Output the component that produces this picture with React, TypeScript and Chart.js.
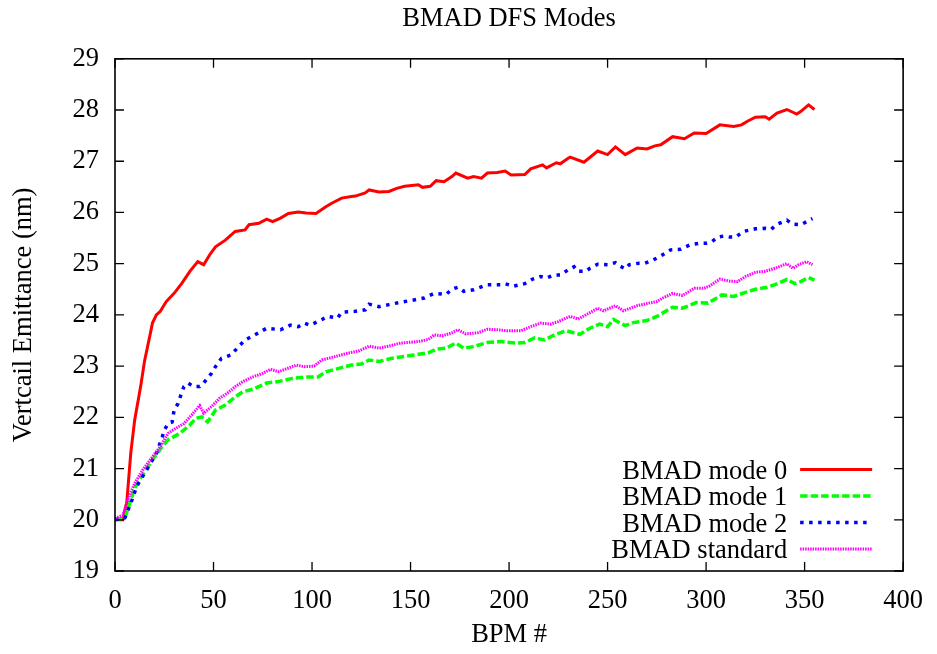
import React, { useEffect, useRef } from 'react';
import { Chart, registerables } from 'chart.js';

Chart.register(...registerables);

const TITLE = 'BMAD DFS Modes';
const X_TITLE = 'BPM #';
const Y_TITLE = 'Vertcail Emittance (nm)';
const X_TICKS = [0, 50, 100, 150, 200, 250, 300, 350, 400];
const Y_TICKS = [19, 20, 21, 22, 23, 24, 25, 26, 27, 28, 29];
const SERIES_NAMES = ['BMAD mode 0', 'BMAD mode 1', 'BMAD mode 2', 'BMAD standard'];
const SERIES_COLORS = ['#ff0000', '#00ff00', '#0000ff', '#ff00ff'];

// [BPM #, emittance (nm)]
const mode0: [number, number][] = [
  [0, 20], [4, 20], [6, 20.35], [8, 21.3], [10, 21.95], [13, 22.6], [15, 23.1], [18, 23.65], [19, 23.84], [21, 24.0],
  [23, 24.07], [26, 24.26], [30, 24.42], [34, 24.62], [38, 24.85], [42, 25.04], [45, 24.98], [48, 25.17], [51, 25.33], [56, 25.46],
  [61, 25.63], [66, 25.66], [68, 25.76], [73, 25.79], [77, 25.87], [80, 25.82], [84, 25.89], [88, 25.98], [93, 26.01], [97, 25.99],
  [102, 25.98], [107, 26.11], [110, 26.18], [115, 26.28], [120, 26.31], [122, 26.32], [127, 26.38], [129, 26.44], [134, 26.4], [139, 26.41],
  [143, 26.47], [147, 26.51], [154, 26.54], [156, 26.49], [160, 26.51], [163, 26.62], [167, 26.6], [171, 26.7], [173, 26.77], [179, 26.67],
  [182, 26.7], [186, 26.67], [189, 26.77], [194, 26.78], [198, 26.81], [201, 26.73], [208, 26.74], [211, 26.85], [217, 26.93], [219, 26.87],
  [224, 26.97], [226, 26.95], [230, 27.06], [231, 27.08], [238, 26.98], [245, 27.2], [250, 27.13], [254, 27.28], [259, 27.13], [265, 27.26],
  [270, 27.24], [274, 27.3], [277, 27.32], [283, 27.48], [289, 27.44], [294, 27.55], [300, 27.54], [307, 27.71], [314, 27.68], [318, 27.71],
  [321, 27.78], [325, 27.86], [330, 27.87], [332, 27.82], [336, 27.94], [341, 28.01], [346, 27.92], [348, 27.97], [352, 28.1], [355, 28.01],
];

const mode1: [number, number][] = [
  [0, 20.01], [5, 20.03], [7, 20.26], [10, 20.62], [14, 20.88], [19, 21.17], [24, 21.43], [27, 21.56], [33, 21.69], [38, 21.85],
  [41, 21.98], [44, 22.01], [47, 21.91], [51, 22.14], [56, 22.24], [61, 22.4], [65, 22.5], [70, 22.55], [77, 22.67], [83, 22.7],
  [90, 22.76], [97, 22.79], [103, 22.79], [107, 22.89], [114, 22.96], [120, 23.02], [125, 23.04], [129, 23.12], [134, 23.09], [140, 23.15],
  [147, 23.19], [154, 23.23], [159, 23.26], [163, 23.33], [168, 23.35], [173, 23.45], [177, 23.35], [182, 23.38], [189, 23.46], [196, 23.48],
  [203, 23.45], [208, 23.46], [213, 23.55], [218, 23.51], [223, 23.61], [229, 23.69], [236, 23.62], [241, 23.74], [246, 23.82], [250, 23.77],
  [253, 23.91], [259, 23.79], [263, 23.85], [270, 23.89], [275, 23.97], [283, 24.15], [288, 24.13], [295, 24.24], [301, 24.23], [308, 24.39],
  [314, 24.36], [320, 24.44], [325, 24.5], [331, 24.54], [335, 24.59], [341, 24.69], [345, 24.61], [348, 24.65], [352, 24.73], [355, 24.68],
];

const mode2: [number, number][] = [
  [0, 20], [5, 20.04], [8, 20.32], [11, 20.65], [16, 20.97], [21, 21.3], [24, 21.62], [25, 21.75], [27, 21.88], [29, 21.91],
  [30, 22.14], [32, 22.27], [34, 22.5], [35, 22.6], [37, 22.67], [40, 22.6], [43, 22.6], [45, 22.67], [49, 22.86], [51, 22.99],
  [54, 23.15], [59, 23.22], [62, 23.35], [66, 23.51], [71, 23.61], [77, 23.74], [84, 23.71], [89, 23.8], [93, 23.77], [96, 23.84],
  [99, 23.8], [103, 23.87], [108, 23.97], [113, 23.94], [115, 24.05], [122, 24.07], [127, 24.1], [129, 24.21], [134, 24.16], [139, 24.2],
  [144, 24.24], [150, 24.28], [157, 24.33], [162, 24.42], [168, 24.4], [171, 24.5], [174, 24.54], [177, 24.46], [182, 24.49], [189, 24.59],
  [196, 24.59], [198, 24.61], [202, 24.56], [208, 24.61], [212, 24.7], [216, 24.75], [219, 24.72], [223, 24.78], [226, 24.78], [230, 24.88],
  [233, 24.94], [235, 24.85], [239, 24.85], [241, 24.91], [245, 24.99], [250, 24.98], [254, 25.02], [256, 24.96], [259, 24.9], [261, 24.98],
  [266, 25.01], [269, 25.01], [273, 25.07], [277, 25.15], [282, 25.27], [287, 25.28], [292, 25.37], [297, 25.4], [300, 25.4], [303, 25.43],
  [306, 25.52], [309, 25.54], [312, 25.52], [315, 25.52], [319, 25.63], [325, 25.68], [330, 25.69], [333, 25.67], [336, 25.77], [341, 25.85],
  [344, 25.77], [348, 25.76], [351, 25.82], [354, 25.88],
];

const standard: [number, number][] = [
  [0, 20.03], [4, 20.09], [7, 20.45], [10, 20.71], [14, 20.97], [19, 21.23], [23, 21.43], [27, 21.69], [31, 21.79], [35, 21.88],
  [39, 22.05], [41, 22.14], [43, 22.23], [45, 22.08], [49, 22.21], [53, 22.37], [57, 22.47], [61, 22.6], [65, 22.7], [70, 22.79],
  [75, 22.86], [79, 22.94], [83, 22.89], [90, 22.99], [92, 23.02], [96, 22.99], [101, 23.0], [105, 23.12], [110, 23.17], [118, 23.25],
  [124, 23.3], [129, 23.39], [134, 23.35], [139, 23.39], [145, 23.45], [154, 23.48], [159, 23.52], [162, 23.61], [166, 23.59], [171, 23.65],
  [174, 23.71], [178, 23.63], [184, 23.65], [189, 23.72], [194, 23.71], [199, 23.69], [206, 23.69], [211, 23.77], [216, 23.84], [221, 23.82],
  [225, 23.87], [229, 23.94], [231, 23.97], [235, 23.92], [239, 24.0], [245, 24.13], [248, 24.08], [254, 24.18], [258, 24.08], [265, 24.18],
  [271, 24.23], [275, 24.26], [278, 24.33], [283, 24.42], [288, 24.38], [294, 24.52], [299, 24.52], [302, 24.57], [307, 24.7], [312, 24.66],
  [316, 24.65], [320, 24.75], [325, 24.83], [330, 24.85], [335, 24.91], [341, 25.0], [344, 24.91], [347, 24.98], [351, 25.04], [354, 24.98],
];

const SERIES = [mode0, mode1, mode2, standard];
const DASHES: number[][] = [[], [7.5, 3], [3.5, 5.5], [1.5, 1]];
const WIDTHS = [3, 3.5, 3.5, 3];

const FONT_FAMILY = "'Liberation Serif', 'DejaVu Serif', serif";
const FONT_SIZE = 26.5;

const gnuFrame = {
  id: 'gnuFrame',
  afterDatasetsDraw(chart: any) {
    const { ctx, chartArea, scales } = chart;
    const { left, right, top, bottom } = chartArea;
    const xs = scales.x;
    const ys = scales.y;
    ctx.save();
    ctx.strokeStyle = '#000';
    ctx.lineWidth = 1.6;
    ctx.setLineDash([]);
    ctx.strokeRect(left, top, right - left, bottom - top);
    const tl = 9;
    ctx.lineWidth = 1.3;
    ctx.beginPath();
    for (const v of X_TICKS) {
      const px = xs.getPixelForValue(v);
      ctx.moveTo(px, bottom); ctx.lineTo(px, bottom - tl);
      ctx.moveTo(px, top); ctx.lineTo(px, top + tl);
    }
    for (const v of Y_TICKS) {
      const py = ys.getPixelForValue(v);
      ctx.moveTo(left, py); ctx.lineTo(left + tl, py);
      ctx.moveTo(right, py); ctx.lineTo(right - tl, py);
    }
    ctx.stroke();

    // gnuplot-style key, bottom right inside the plot
    const n = chart.data.datasets.length;
    ctx.font = `${FONT_SIZE}px ${FONT_FAMILY}`;
    ctx.textAlign = 'right';
    ctx.textBaseline = 'alphabetic';
    chart.data.datasets.forEach((ds: any, i: number) => {
      const rowY = bottom - 22 - (n - 1 - i) * 26.5;
      ctx.fillStyle = '#000';
      ctx.fillText(ds.label, right - 116, rowY + 9);
      ctx.strokeStyle = ds.borderColor;
      ctx.lineWidth = ds.borderWidth;
      ctx.setLineDash(ds.borderDash || []);
      ctx.lineCap = 'butt';
      ctx.beginPath();
      ctx.moveTo(right - 103, rowY);
      ctx.lineTo(right - 31, rowY);
      ctx.stroke();
    });
    ctx.restore();
  },
};

export default function App() {
  const ref = useRef<HTMLCanvasElement | null>(null);
  useEffect(() => {
    if (!ref.current) return;
    const font = { family: FONT_FAMILY, size: FONT_SIZE };
    const chart = new Chart(ref.current, {
      type: 'line',
      data: {
        datasets: SERIES.map((pts, i) => ({
          label: SERIES_NAMES[i],
          data: pts.map(([x, y]) => ({ x, y })),
          borderColor: SERIES_COLORS[i],
          backgroundColor: SERIES_COLORS[i],
          borderWidth: WIDTHS[i],
          borderDash: DASHES[i],
          borderCapStyle: 'butt',
          pointRadius: 0,
          tension: 0,
          fill: false,
          order: SERIES.length - 1 - i,
        })),
      },
      options: {
        animation: false,
        responsive: false,
        maintainAspectRatio: false,
        layout: { padding: { left: 0, right: 29, top: 0, bottom: 0 } },
        plugins: {
          legend: { display: false },
          tooltip: { enabled: false },
          title: {
            display: true,
            text: TITLE,
            color: '#000',
            font: { ...font, weight: 'normal' },
            fullSize: false,
            padding: { top: 3, bottom: 24 },
          },
        },
        scales: {
          x: {
            type: 'linear',
            min: X_TICKS[0],
            max: X_TICKS[X_TICKS.length - 1],
            afterBuildTicks: (s: any) => { s.ticks = X_TICKS.map((v) => ({ value: v })); },
            afterFit: (s: any) => { s.height = 83; },
            grid: { display: false, drawTicks: false },
            border: { display: false },
            ticks: { color: '#000', font, padding: 14, maxRotation: 0, autoSkip: false },
            title: { display: true, text: X_TITLE, color: '#000', font, padding: { top: 0, bottom: 3 } },
          },
          y: {
            type: 'linear',
            min: Y_TICKS[0],
            max: Y_TICKS[Y_TICKS.length - 1],
            afterBuildTicks: (s: any) => { s.ticks = Y_TICKS.map((v) => ({ value: v })); },
            afterFit: (s: any) => { s.width = 115; },
            grid: { display: false, drawTicks: false },
            border: { display: false },
            ticks: { color: '#000', font, padding: 16, autoSkip: false },
            title: { display: true, text: Y_TITLE, color: '#000', font, padding: { top: 8, bottom: 0 } },
          },
        },
      },
      plugins: [gnuFrame],
    } as any);
    return () => chart.destroy();
  }, []);
  return (
    <div style={{ position: 'absolute', left: 0, top: 0, width: 937, height: 654, background: '#fff' }}>
      <canvas ref={ref} width={937} height={654} style={{ display: 'block' }} />
    </div>
  );
}
